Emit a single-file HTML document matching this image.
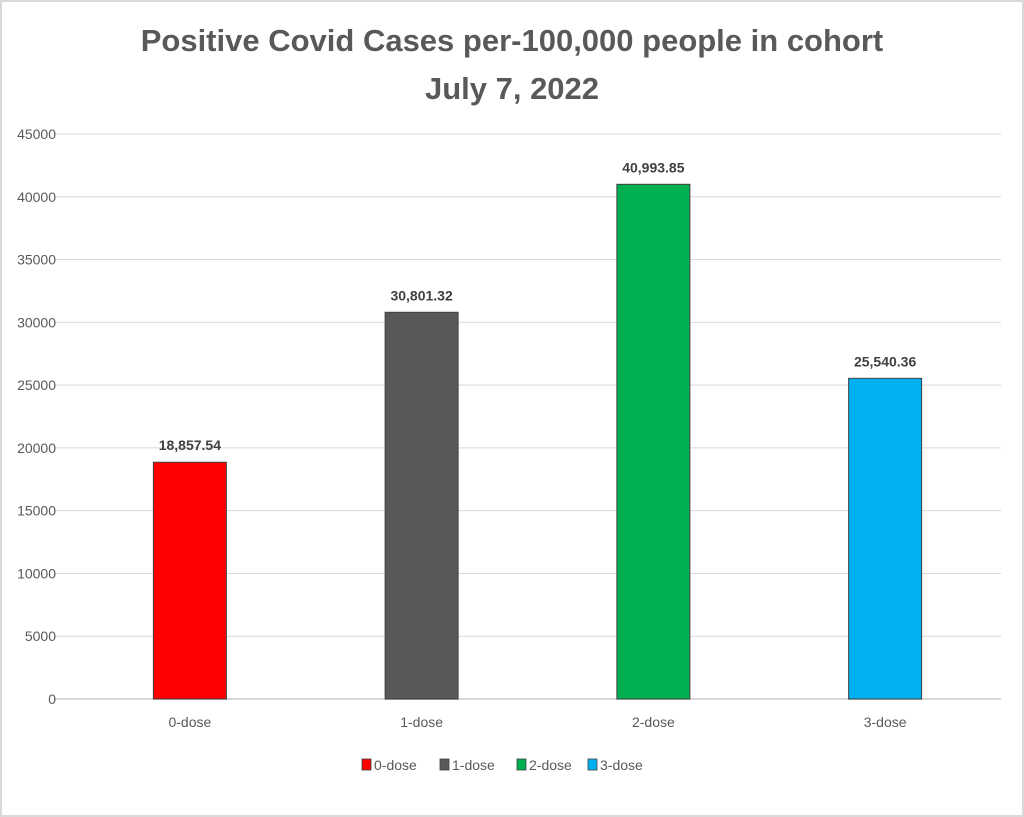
<!DOCTYPE html>
<html><head><meta charset="utf-8"><style>
body{margin:0;background:#fff;}
svg{display:block;font-family:"Liberation Sans",sans-serif;}
</style></head><body>
<svg id="chart" width="1024" height="817" viewBox="0 0 1024 817">
<rect x="1" y="1" width="1022" height="815" fill="#fff" stroke="#d9d9d9" stroke-width="2"/>
<text x="512" y="51" text-anchor="middle" font-size="31" font-weight="bold" fill="#595959">Positive Covid Cases per-100,000 people in cohort</text>
<text x="512" y="99" text-anchor="middle" font-size="31" font-weight="bold" fill="#595959">July 7, 2022</text>
<g id="grid"></g><g id="bars"></g><g id="legend"></g>
</svg>
<script>
const categories=["0-dose","1-dose","2-dose","3-dose"];
const values=[18857.54,30801.32,40993.85,25540.36];
const valueLabels=["18,857.54","30,801.32","40,993.85","25,540.36"];
const colors=["#ff0000","#595959","#00b050","#00b0f0"];
const yTicks=[0,5000,10000,15000,20000,25000,30000,35000,40000,45000];
const NS="http://www.w3.org/2000/svg";
const y0=699,yTop=134,yMax=45000,xL=74,xR=1001;
const y=v=>y0-(v/yMax)*(y0-yTop);
const band=(xR-xL)/categories.length;
const xc=i=>xL+band*(i+0.5);
function mk(tag,attrs,parent,text){const e=document.createElementNS(NS,tag);for(const k in attrs)e.setAttribute(k,attrs[k]);if(text!==undefined)e.textContent=text;parent.appendChild(e);return e;}
const grid=document.getElementById('grid');
yTicks.forEach(t=>{
 const l=mk('line',{x1:55,x2:xR,y1:y(t),y2:y(t),stroke:t===0?'#d9d9d9':'#d9d9d9','stroke-width':t===0?2:1},grid);
 
 
 const tx=mk('text',{x:56,y:y(t)+5,'text-anchor':'end','font-size':14,fill:'#595959'},grid,String(t));
 
 
});
const bars=document.getElementById('bars');
const bw=73;
categories.forEach((c,i)=>{
 const r=mk('rect',{x:xc(i)-bw/2,y:y(values[i]),width:bw,height:y0-y(values[i]),fill:colors[i],stroke:'#404040','stroke-width':1},bars);
 
 
 const v=mk('text',{x:xc(i),y:y(values[i])-12,'text-anchor':'middle','font-size':14,'font-weight':'bold',fill:'#404040'},bars,valueLabels[i]);
 
 
 const xl=mk('text',{x:xc(i),y:727,'text-anchor':'middle','font-size':14,fill:'#595959'},bars,c);
 
 
});
const legend=document.getElementById('legend');
const lx=[362,440,517,588];
categories.forEach((c,i)=>{
 const s=mk('rect',{x:lx[i]-92+92-0,y:759,width:9,height:11,fill:colors[i],stroke:'#404040','stroke-width':0.8},legend);
 
 
 const t=mk('text',{x:lx[i]+12,y:770,'font-size':14,fill:'#595959'},legend,c);
 
 
});
</script>
</body></html>
